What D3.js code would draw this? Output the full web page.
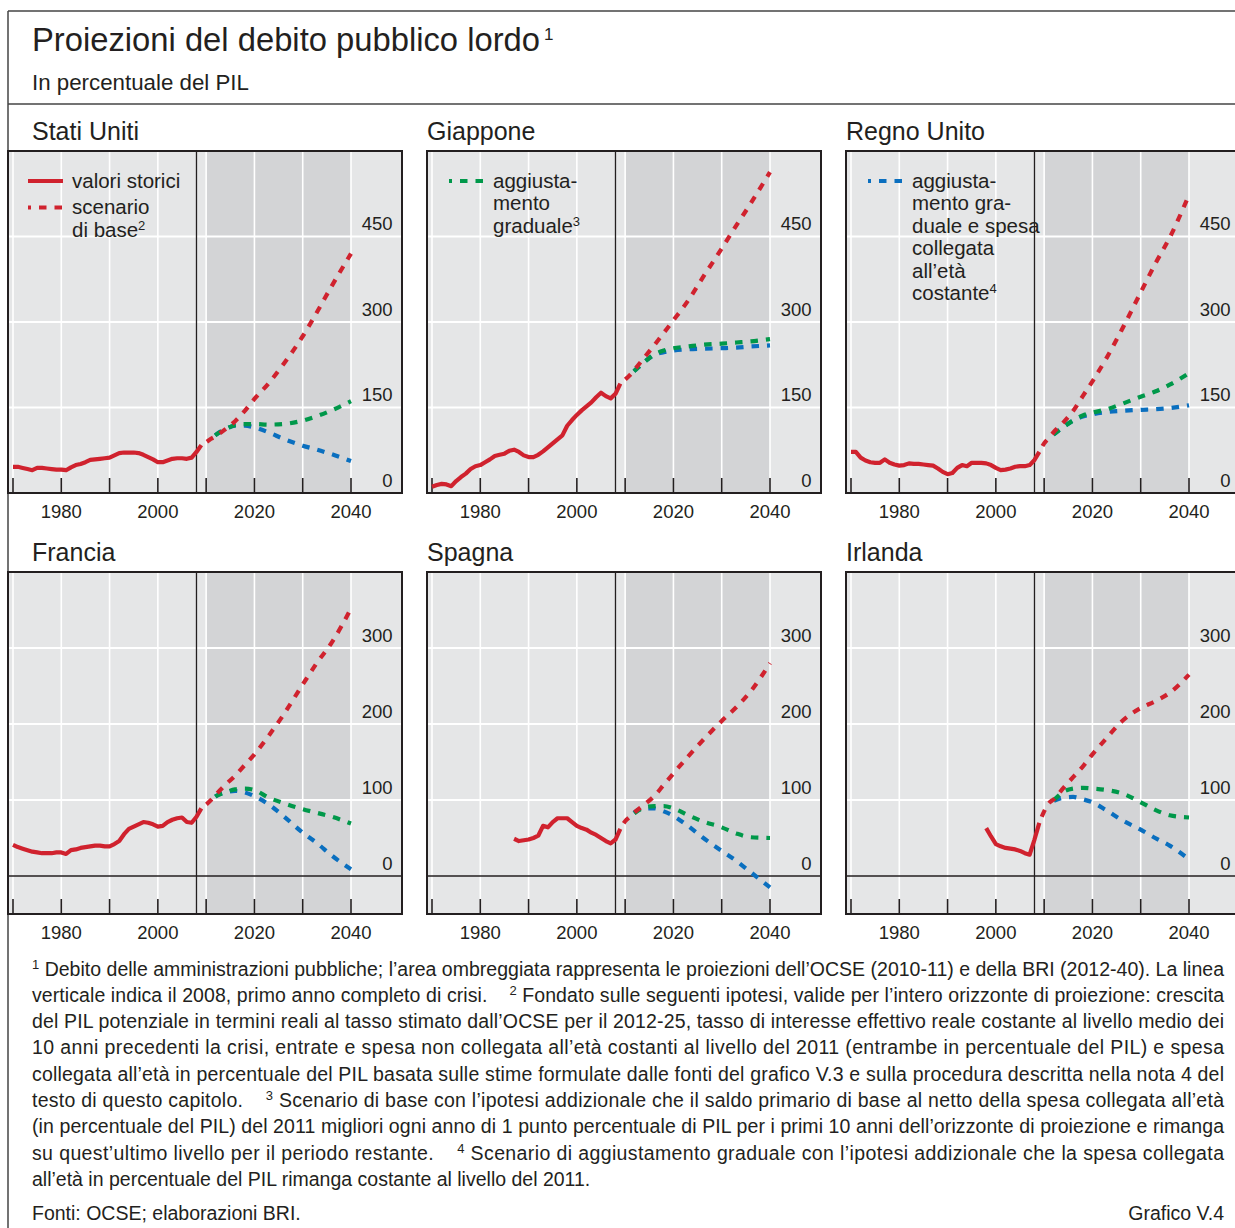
<!DOCTYPE html>
<html><head><meta charset="utf-8">
<script src="https://cdn.jsdelivr.net/npm/d3@7"></script>
<style>
body{margin:0;background:#fff;}
svg{display:block;font-family:"Liberation Sans",Arial,sans-serif;}
text{fill:#231f20;}
</style></head><body>
<svg id="c" width="1235" height="1228"></svg>
<script>
// ---------------- DATA ----------------
const countries = ["Stati Uniti","Giappone","Regno Unito","Francia","Spagna","Irlanda"];

const histYears = [1970,1971,1972,1973,1974,1975,1976,1977,1978,1979,
  1980,1981,1982,1983,1984,1985,1986,1987,1988,1989,
  1990,1991,1992,1993,1994,1995,1996,1997,1998,1999,
  2000,2001,2002,2003,2004,2005,2006,2007,2008,2009];

const histUS = [46,46,44,42,40,44,44,43,42,41, 41,40,45,49,51,54,58,59,60,61, 62,66,70,71,71,71,70,67,63,59, 54,54,57,60,61,61,60,62,72,84];
const histJP = [11,14,16,15,12,21,28,34,42,47, 49,54,59,65,67,69,74,76,72,66, 63,63,67,73,80,87,94,101,118,128, 137,145,152,159,168,176,170,166,174,192];
const histUK = [72,72,62,57,54,53,53,59,53,50, 48,49,52,51,51,50,49,48,43,37, 33,35,44,49,47,53,53,53,52,49, 44,40,41,43,46,47,47,49,58,72];
const histFR = [41,38,36,34,32,31,30,30,30,31, 31,29,34,35,37,38,39,40,40,39, 39,42,46,55,62,65,68,71,70,68, 65,66,71,74,76,77,71,70,78,89];
const histES = [null,null,null,null,null,null,null,null,null,null, null,null,null,null,null,null,null,49,46,47, 48,50,53,66,64,71,76,76,76,71, 66,63,61,57,54,50,46,43,48,62];
const histIE = [null,null,null,null,null,null,null,null,null,null, null,null,null,null,null,null,null,null,null,null, null,null,null,null,null,null,null,null,63,52, 42,39,37,36,35,33,30,28,48,70];

const projYears = [2009,2010,2011,2012,2014,2016,2018,2020,2023,2026,2030,2033,2036,2040];

const baseUS = [84,89,95,100,112,126,144,165,193,226,275,318,363,420];
const gradUS = [null,null,95,102,112,119,121,121,120,121,127,135,145,161];
const ageUS  = [null,null,95,102,112,118,118,115,106,95,83,76,68,56];

const baseJP = [192,199,207,217,238,259,281,303,337,377,429,469,508,563];
const gradJP = [null,null,207,215,230,243,250,254,257,260,262,264,266,270];
const ageJP  = [null,null,207,215,230,242,247,250,252,253,254,255,257,259];

const baseUK = [72,87,97,107,124,144,170,196,238,285,352,402,448,523];
const gradUK = [null,null,97,103,116,127,136,141,147,156,169,178,190,210];
const ageUK  = [null,null,97,103,116,127,134,138,142,144,146,147,149,154];

const baseFR = [89,94,100,107,120,132,146,160,185,212,252,281,307,352];
const gradFR = [null,null,100,105,110,114,115,113,103,96,88,83,78,69];
const ageFR  = [null,null,100,105,110,112,110,105,94,79,57,43,27,9];

const baseES = [62,72,78,84,94,105,120,135,157,178,204,222,243,280];
const gradES = [null,null,78,83,90,92,92,89,80,72,64,56,51,50];
const ageES  = [null,null,78,84,89,89,85,79,66,51,33,20,5,-15];

const baseIE = [70,85,96,101,116,130,144,160,182,203,221,230,241,265];
const gradIE = [null,null,96,100,111,115,116,115,113,109,97,87,80,77];
const ageIE  = [null,null,96,99,103,104,101,97,86,74,61,50,40,22];

const histAll = [histUS,histJP,histUK,histFR,histES,histIE];
const baseAll = [baseUS,baseJP,baseUK,baseFR,baseES,baseIE];
const gradAll = [gradUS,gradJP,gradUK,gradFR,gradES,gradIE];
const ageAll  = [ageUS,ageJP,ageUK,ageFR,ageES,ageIE];

const yTicksTop = [0,150,300,450];
const yTicksBottom = [0,100,200,300];
const xTickLabels = [1980,2000,2020,2040];
const xTickMarks = [1970,1980,1990,2000,2010,2020,2030,2040];

const titleText = "Proiezioni del debito pubblico lordo";
const subtitleText = "In percentuale del PIL";
const legendTexts = [
  [{kind:"solid", lines:["valori storici"]},{kind:"base", lines:["scenario","di base^2"]}],
  [{kind:"grad", lines:["aggiusta-","mento","graduale^3"]}],
  [{kind:"age", lines:["aggiusta-","mento gra-","duale e spesa","collegata","all’età","costante^4"]}]
];
const footLines = [
  "^1 Debito delle amministrazioni pubbliche; l’area ombreggiata rappresenta le proiezioni dell’OCSE (2010-11) e della BRI (2012-40). La linea",
  "verticale indica il 2008, primo anno completo di crisi.    ^2 Fondato sulle seguenti ipotesi, valide per l’intero orizzonte di proiezione: crescita",
  "del PIL potenziale in termini reali al tasso stimato dall’OCSE per il 2012-25, tasso di interesse effettivo reale costante al livello medio dei",
  "10 anni precedenti la crisi, entrate e spesa non collegata all’età costanti al livello del 2011 (entrambe in percentuale del PIL) e spesa",
  "collegata all’età in percentuale del PIL basata sulle stime formulate dalle fonti del grafico V.3 e sulla procedura descritta nella nota 4 del",
  "testo di questo capitolo.    ^3 Scenario di base con l’ipotesi addizionale che il saldo primario di base al netto della spesa collegata all’età",
  "(in percentuale del PIL) del 2011 migliori ogni anno di 1 punto percentuale di PIL per i primi 10 anni dell’orizzonte di proiezione e rimanga",
  "su quest’ultimo livello per il periodo restante.    ^4 Scenario di aggiustamento graduale con l’ipotesi addizionale che la spesa collegata",
  "all’età in percentuale del PIL rimanga costante al livello del 2011."
];
const sourceText = "Fonti: OCSE; elaborazioni BRI.";
const chartId = "Grafico V.4";

// ---------------- STYLE ----------------
const INK = "#231f20";
const RED = "#d0222e", GREEN = "#00984a", BLUE = "#0a6fbf";
const BG = "#e5e6e7", SHADE = "#d3d4d6";
const colors = {solid:RED, base:RED, grad:GREEN, age:BLUE};
const DASH = "7.5 8";
const SW = 4.2;

const svg = d3.select("#c");

function addRich(textSel, str, supSize){
  const parts = str.split(/(\^\d)/);
  parts.forEach(p=>{
    if(!p) return;
    if(p[0]==="^"){
      textSel.append("tspan").attr("baseline-shift","super").style("font-size",supSize+"px").text(p.slice(1));
    } else textSel.append("tspan").text(p);
  });
}
function fitWidth(sel, w){
  const l = sel.node().getComputedTextLength();
  const fs = parseFloat(sel.style("font-size"));
  sel.style("font-size",(fs*w/l)+"px");
}

// frame
svg.append("line").attr("x1",8).attr("x2",1235).attr("y1",11).attr("y2",11).attr("stroke","#444").attr("stroke-width",1.5);
svg.append("line").attr("x1",8).attr("x2",1235).attr("y1",104).attr("y2",104).attr("stroke","#444").attr("stroke-width",1.5);
svg.append("line").attr("x1",8).attr("x2",8).attr("y1",11).attr("y2",1228).attr("stroke","#444").attr("stroke-width",1.5);

// title
const tt = svg.append("text").attr("x",32).attr("y",51).style("font-size","30px").text(titleText);
fitWidth(tt, 508);
svg.append("text").attr("x",32+508+4).attr("y",40).style("font-size","17px").text("1");
const st = svg.append("text").attr("x",32).attr("y",90).style("font-size","20px").text(subtitleText);
fitWidth(st, 217);

// panels
const W = 394, H = 342;
const colX = [8, 427, 846], rowY = [151, 572];

countries.forEach((name,i)=>{
  const col = i%3, row = Math.floor(i/3);
  const left = colX[col], top = rowY[row];
  const g = svg.append("g").attr("transform",`translate(${left},${top})`);
  const x = d3.scaleLinear().domain([1970,2040]).range([5,343]);
  const y = d3.scaleLinear().domain(row===0?[0,600]:[-50,400]).range([H,0]);
  const yTicks = row===0?yTicksTop:yTicksBottom;

  // panel title
  svg.append("text").attr("x", col===0?32:left).attr("y", top-11).style("font-size","25px").text(name);

  g.append("rect").attr("width",W).attr("height",H).attr("fill",BG);
  g.append("rect").attr("x",x(2010)).attr("width",x(2040)-x(2010)).attr("height",H).attr("fill",SHADE);

  // grid
  g.selectAll(".vg").data(xTickMarks).enter().append("line")
    .attr("x1",d=>x(d)).attr("x2",d=>x(d)).attr("y1",0).attr("y2",H)
    .attr("stroke","#fff").attr("stroke-width",1.6);
  g.selectAll(".hg").data(yTicks.filter(v=>v!==0)).enter().append("line")
    .attr("x1",0).attr("x2",W).attr("y1",d=>y(d)).attr("y2",d=>y(d))
    .attr("stroke","#fff").attr("stroke-width",2);
  if(row===1){
    g.append("line").attr("x1",0).attr("x2",W).attr("y1",y(0)).attr("y2",y(0)).attr("stroke",INK).attr("stroke-width",1.6);
  }
  // 2008 line
  g.append("line").attr("x1",x(2008)).attr("x2",x(2008)).attr("y1",0).attr("y2",H).attr("stroke",INK).attr("stroke-width",1.3);
  // tick marks
  g.selectAll(".tk").data(xTickMarks).enter().append("line")
    .attr("x1",d=>x(d)).attr("x2",d=>x(d)).attr("y1",H-15).attr("y2",H)
    .attr("stroke",INK).attr("stroke-width",1.6);

  // series
  const hist = histYears.map((yr,k)=>({yr, v:histAll[i][k]}));
  const mk = arr => projYears.map((yr,k)=>({yr, v:arr[k]}));
  const lineLin = d3.line().defined(d=>d.v!==null).x(d=>x(d.yr)).y(d=>y(d.v));
  const lineCurve = d3.line().defined(d=>d.v!==null).x(d=>x(d.yr)).y(d=>y(d.v)).curve(d3.curveMonotoneX);

  g.append("path").datum(mk(ageAll[i])).attr("d",lineCurve).attr("fill","none")
    .attr("stroke",BLUE).attr("stroke-width",SW).attr("stroke-dasharray",DASH).attr("stroke-dashoffset",10);
  g.append("path").datum(mk(gradAll[i])).attr("d",lineCurve).attr("fill","none")
    .attr("stroke",GREEN).attr("stroke-width",SW).attr("stroke-dasharray",DASH).attr("stroke-dashoffset",10);
  g.append("path").datum(mk(baseAll[i])).attr("d",lineCurve).attr("fill","none")
    .attr("stroke",RED).attr("stroke-width",SW).attr("stroke-dasharray",DASH).attr("stroke-dashoffset",9);
  g.append("path").datum(hist).attr("d",lineLin).attr("fill","none")
    .attr("stroke",RED).attr("stroke-width",SW).attr("stroke-linejoin","round");

  // frame
  g.append("rect").attr("width",W).attr("height",H).attr("fill","none").attr("stroke",INK).attr("stroke-width",2);

  // y labels
  g.selectAll(".yl").data(yTicks).enter().append("text")
    .attr("x",384.5).attr("y",d=>y(d)-6.5).attr("text-anchor","end").style("font-size","18.5px").text(d=>d);
  // x labels
  g.selectAll(".xl").data(xTickLabels).enter().append("text")
    .attr("x",d=>x(d)).attr("y",H+25).attr("text-anchor","middle").style("font-size","18.5px").text(d=>d);

  // legends (top row)
  if(row===0){
    let ly = 30;
    legendTexts[col].forEach(entry=>{
      const c = colors[entry.kind];
      const lx1 = col===0?20:22, lx2 = lx1+35;
      const ln = g.append("line").attr("x1",lx1).attr("x2",lx2).attr("y1",ly).attr("y2",ly)
        .attr("stroke",c).attr("stroke-width",SW);
      if(entry.kind!=="solid") ln.attr("stroke-dasharray",DASH).attr("stroke-dashoffset",4.5);
      entry.lines.forEach((s,k)=>{
        const t = g.append("text").attr("x",col===0?64:66).attr("y",ly+6.5+k*22.5).style("font-size","20.5px");
        addRich(t, s, 13);
      });
      ly += entry.lines.length*22.5 + 4;
    });
  }
});

// footnotes
const FS = 19.5;
footLines.forEach((ln,i)=>{
  const t = svg.append("text").attr("x",32).attr("y",975.5+i*26.3)
    .style("font-size",FS+"px").style("white-space","pre");
  addRich(t, ln, 13);
  if(i<footLines.length-1){
    const nat = t.node().getComputedTextLength();
    t.attr("textLength",1192).attr("lengthAdjust", nat>1192 ? "spacingAndGlyphs" : "spacing");
  }
});
svg.append("text").attr("x",32).attr("y",1220).style("font-size",FS+"px").text(sourceText);
svg.append("text").attr("x",1224).attr("y",1220).attr("text-anchor","end").style("font-size",FS+"px").text(chartId);
</script>
</body></html>
